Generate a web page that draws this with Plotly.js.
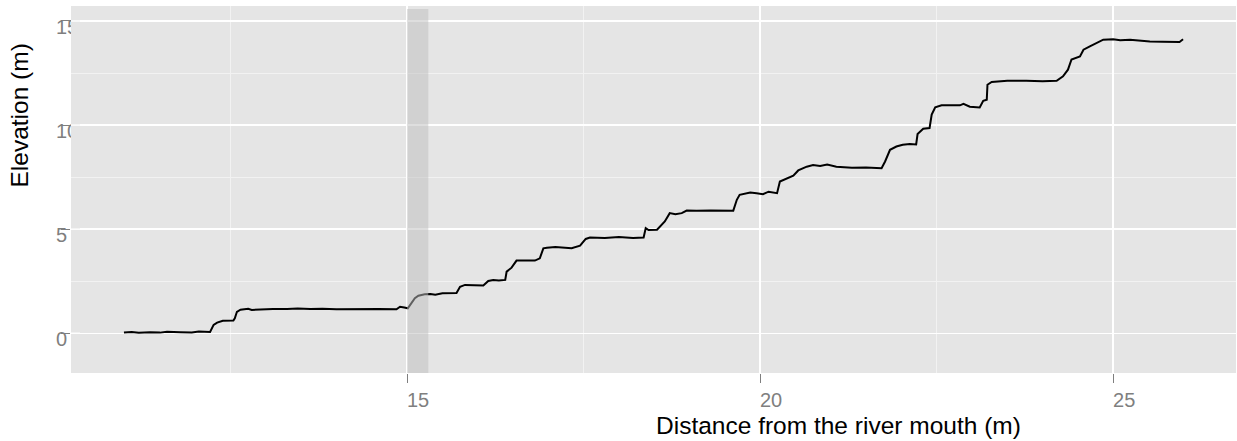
<!DOCTYPE html>
<html>
<head>
<meta charset="utf-8">
<script src="https://cdn.plot.ly/plotly-3.0.1.min.js"></script>
<style>html,body{margin:0;padding:0;background:#fff;}#chart{width:1237px;height:441px;}</style>
</head>
<body>
<div id="chart"></div>
<script>
// Distance from the river mouth (m)
const distance = [
  10.99, 11.10, 11.20, 11.36, 11.50, 11.60, 11.79, 11.95, 12.05, 12.15,
  12.21, 12.26, 12.31, 12.39, 12.54, 12.56, 12.59, 12.64, 12.75, 12.80,
  12.92, 13.10, 13.30, 13.45, 13.63, 13.80, 14.00, 14.19, 14.40, 14.60,
  14.85, 14.90, 14.96, 15.01, 15.11, 15.16, 15.25, 15.33, 15.40, 15.50,
  15.70, 15.75, 15.82, 15.95, 16.08, 16.15, 16.22, 16.30, 16.39, 16.41,
  16.48, 16.55, 16.81, 16.88, 16.93, 16.98, 17.10, 17.33, 17.45, 17.53,
  17.59, 17.80, 18.00, 18.20, 18.35, 18.38, 18.42, 18.54, 18.58, 18.65,
  18.72, 18.80, 18.89, 18.96, 19.10, 19.30, 19.62, 19.67, 19.71, 19.86,
  19.95, 20.04, 20.12, 20.24, 20.28, 20.38, 20.47, 20.54, 20.66, 20.75,
  20.85, 20.95, 21.08, 21.30, 21.50, 21.72, 21.77, 21.84, 21.93, 22.02,
  22.12, 22.21, 22.23, 22.31, 22.40, 22.43, 22.48, 22.57, 22.83, 22.88,
  22.97, 23.11, 23.16, 23.21, 23.22, 23.28, 23.35, 23.50, 23.77, 24.00,
  24.20, 24.29, 24.36, 24.41, 24.53, 24.58, 24.67, 24.81, 24.86, 25.00,
  25.10, 25.24, 25.40, 25.52, 25.70, 25.94, 25.99
];
// Elevation (m)
const elevation = [
  0.03, 0.06, 0.02, 0.05, 0.03, 0.07, 0.05, 0.04, 0.08, 0.05,
  0.06, 0.40, 0.51, 0.60, 0.61, 0.72, 1.03, 1.13, 1.17, 1.12,
  1.15, 1.17, 1.16, 1.19, 1.16, 1.18, 1.15, 1.16, 1.14, 1.17,
  1.15, 1.27, 1.24, 1.20, 1.68, 1.80, 1.87, 1.89, 1.85, 1.92,
  1.93, 2.23, 2.32, 2.30, 2.29, 2.51, 2.56, 2.53, 2.56, 2.96,
  3.15, 3.49, 3.49, 3.60, 4.08, 4.11, 4.14, 4.08, 4.21, 4.53,
  4.60, 4.58, 4.62, 4.57, 4.60, 5.05, 4.96, 4.97, 5.12, 5.37,
  5.77, 5.72, 5.77, 5.89, 5.88, 5.90, 5.89, 6.41, 6.65, 6.76,
  6.72, 6.68, 6.80, 6.73, 7.29, 7.45, 7.57, 7.82, 8.00, 8.08,
  8.04, 8.10, 8.00, 7.95, 7.96, 7.93, 8.25, 8.81, 8.97, 9.05,
  9.09, 9.07, 9.57, 9.82, 9.86, 10.50, 10.85, 10.95, 10.95, 11.02,
  10.88, 10.85, 11.17, 11.22, 11.94, 12.07, 12.10, 12.13, 12.13, 12.10,
  12.13, 12.34, 12.66, 13.15, 13.30, 13.62, 13.78, 14.02, 14.10, 14.12,
  14.07, 14.10, 14.05, 14.02, 14.00, 13.99, 14.12
];
// Highlighted band
const bandX = [15.0, 15.3];
const bandTop = 15.58;

const xTicks = [15, 20, 25];
const xTickText = ['15', '20', '25'];
const xMinor = [12.5, 17.5, 22.5];
const yTicks = [0, 5, 10, 15];
const yTickText = ['0', '5', '10', '15'];
const yMinor = [2.5, 7.5, 12.5];

const xRange = [10.24, 26.74];
const yRange = [-1.91, 15.72];

const FONT = '"Liberation Sans", Arial, Helvetica, sans-serif';
const GREY = '#7F7F7F';

const trace = {
  x: distance, y: elevation, type: 'scatter', mode: 'lines',
  line: {color: '#000000', width: 2}, hoverinfo: 'skip', showlegend: false
};

const shapes = [
  {type: 'rect', layer: 'above', xref: 'x', yref: 'y',
   x0: bandX[0], x1: bandX[1], y0: yRange[0], y1: bandTop,
   fillcolor: 'rgba(190,190,190,0.5)', line: {width: 0}}
];
// panel covers the overflow of the left-aligned y tick labels
const coverW = 9 / 1165;
yTicks.forEach(t => {
  shapes.push({type: 'rect', layer: 'above', xref: 'paper', yref: 'y',
    x0: 0, x1: coverW, y0: t - 0.75, y1: t + 0.4,
    fillcolor: '#E5E5E5', line: {width: 0}});
  shapes.push({type: 'line', layer: 'above', xref: 'paper', yref: 'y',
    x0: 0, x1: coverW, y0: t, y1: t, line: {color: '#FFFFFF', width: 1.4}});
});

const layout = {
  width: 1237, height: 441,
  margin: {l: 71, r: 1, t: 6, b: 68, pad: 0},
  paper_bgcolor: '#FFFFFF', plot_bgcolor: '#E5E5E5',
  font: {family: FONT, color: '#000000'},
  showlegend: false,
  xaxis: {
    range: xRange, tickmode: 'array', tickvals: xTicks, ticktext: xTickText,
    showgrid: true, gridcolor: '#FFFFFF', gridwidth: 1.4, zeroline: false, showline: false,
    ticks: 'outside', ticklen: 9, tickwidth: 1, tickcolor: GREY,
    tickfont: {family: FONT, size: 20, color: GREY},
    ticklabelshift: 11,
    minor: {tickmode: 'array', tickvals: xMinor, showgrid: true, gridcolor: '#F2F2F2', gridwidth: 1, ticks: ''}
  },
  yaxis: {
    range: yRange, tickmode: 'array', tickvals: yTicks, ticktext: yTickText,
    showgrid: true, gridcolor: '#FFFFFF', gridwidth: 1.4, zeroline: false, showline: false,
    ticks: 'outside', ticklen: 9, tickwidth: 1, tickcolor: GREY,
    tickfont: {family: FONT, size: 20, color: GREY},
    ticklabelposition: 'inside', ticklabelstandoff: -18, ticklabelshift: 6,
    minor: {tickmode: 'array', tickvals: yMinor, showgrid: true, gridcolor: '#F2F2F2', gridwidth: 1, ticks: ''}
  },
  shapes: shapes,
  annotations: [
    {text: 'Distance from the river mouth (m)', xref: 'paper', yref: 'paper',
     x: 0.5, xanchor: 'left', y: -0.142, yanchor: 'middle', showarrow: false,
     font: {family: FONT, size: 24.5, color: '#000000'}},
    {text: 'Elevation (m)', xref: 'paper', yref: 'paper', textangle: -90,
     x: -0.0438, xanchor: 'center', y: 0.5, yanchor: 'bottom', showarrow: false,
     font: {family: FONT, size: 24.5, color: '#000000'}}
  ]
};

Plotly.newPlot('chart', [trace], layout, {staticPlot: true, displayModeBar: false});
</script>
</body>
</html>
